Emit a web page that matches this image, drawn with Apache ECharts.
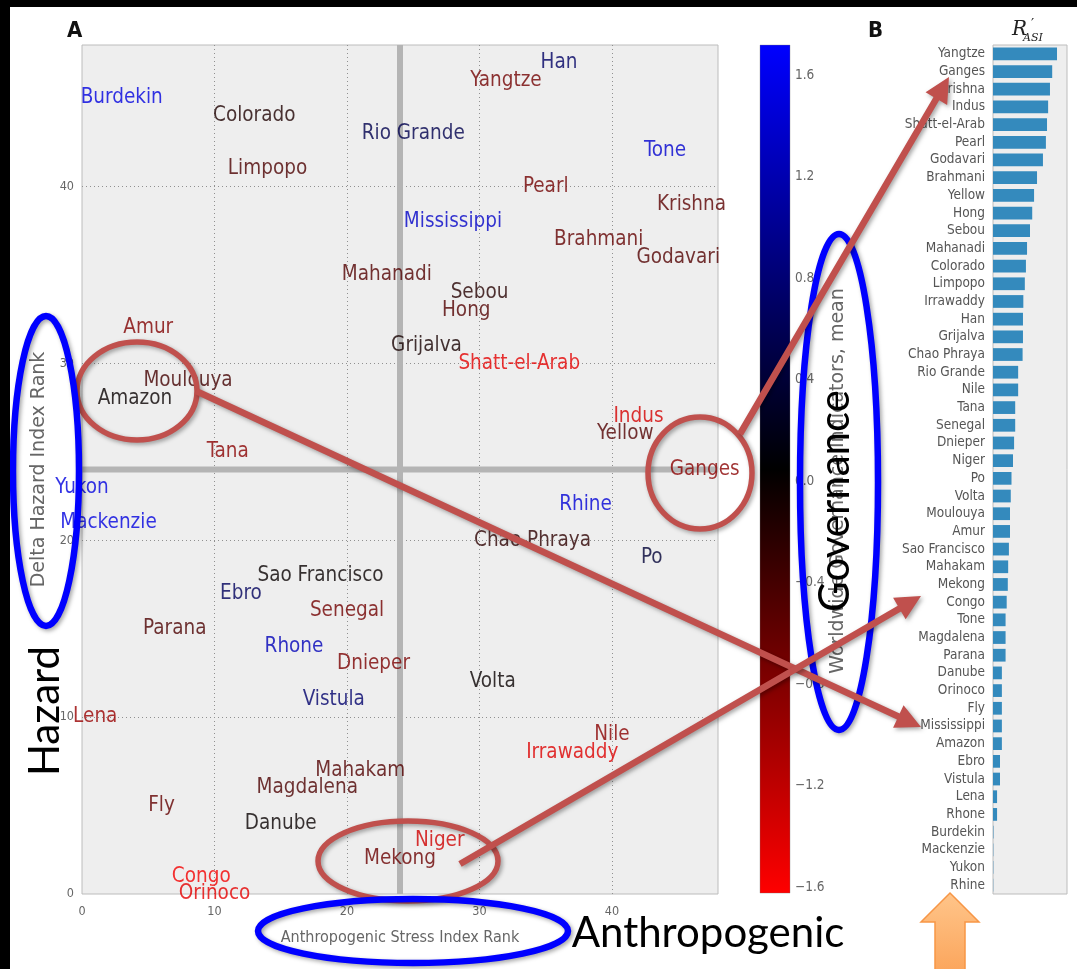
<!DOCTYPE html>
<html>
<head>
<meta charset="utf-8">
<script src="https://cdn.jsdelivr.net/npm/echarts@6/dist/echarts.min.js"></script>
<style>
  html, body { margin: 0; padding: 0; background: #ffffff; }
  #chart { width: 1077px; height: 969px; }
</style>
</head>
<body>
<div id="chart"></div>
<script>
// ---- Panel A: deltas placed by stress rank (x) and hazard rank (y), coloured by governance ----
const rivers = [
  'Yukon', 'Lena', 'Mackenzie', 'Burdekin', 'Amazon', 'Amur', 'Fly', 'Parana',
  'Moulouya', 'Congo', 'Orinoco', 'Tana', 'Ebro', 'Colorado', 'Limpopo', 'Danube',
  'Rhone', 'Magdalena', 'Sao Francisco', 'Vistula', 'Senegal', 'Mahakam', 'Dnieper', 'Mahanadi',
  'Mekong', 'Rio Grande', 'Grijalva', 'Niger', 'Mississippi', 'Hong', 'Sebou', 'Volta',
  'Yangtze', 'Shatt-el-Arab', 'Chao Phraya', 'Pearl', 'Han', 'Irrawaddy', 'Rhine', 'Brahmani',
  'Nile', 'Yellow', 'Indus', 'Po', 'Tone', 'Godavari', 'Krishna', 'Ganges'
];
const stressRank = [
  0, 1, 2, 3, 4, 5, 6, 7,
  8, 9, 10, 11, 12, 13, 14, 15,
  16, 17, 18, 19, 20, 21, 22, 23,
  24, 25, 26, 27, 28, 29, 30, 31,
  32, 33, 34, 35, 36, 37, 38, 39,
  40, 41, 42, 43, 44, 45, 46, 47
];
const hazardRank = [
  23, 10, 21, 45, 28, 32, 5, 15,
  29, 1, 0, 25, 17, 44, 41, 4,
  14, 6, 18, 11, 16, 7, 13, 35,
  2, 43, 31, 3, 38, 33, 34, 12,
  46, 30, 20, 40, 47, 8, 22, 37,
  9, 26, 27, 19, 42, 36, 39, 24
];
const governance = [
  1.5, -0.95, 1.5, 1.5, 0.0, -0.8, -0.6, -0.45,
  -0.4, -1.55, -1.45, -0.85, 0.65, -0.15, -0.45, 0.0,
  1.25, -0.45, 0.0, 0.75, -0.7, -0.5, -0.75, -0.5,
  -0.65, 0.55, -0.1, -1.3, 1.35, -0.5, -0.2, 0.0,
  -0.7, -1.45, -0.25, -0.7, 0.7, -1.4, 1.45, -0.6,
  -0.85, -0.5, -1.35, 0.4, 1.4, -0.5, -0.55, -0.85
];
const medianRank = 24;
const rankMax = 48;

// ---- Colour bar ----
const cbMin = -1.624;
const cbMax = 1.718;
const cbTickMin = -1.6;
const cbTickMax = 1.6;
const cbTickStep = 0.4;

// ---- Panel B: R'ASI ranking ----
const asiRivers = [
  'Yangtze', 'Ganges', 'Krishna', 'Indus', 'Shatt-el-Arab', 'Pearl', 'Godavari', 'Brahmani',
  'Yellow', 'Hong', 'Sebou', 'Mahanadi', 'Colorado', 'Limpopo', 'Irrawaddy', 'Han',
  'Grijalva', 'Chao Phraya', 'Rio Grande', 'Nile', 'Tana', 'Senegal', 'Dnieper', 'Niger',
  'Po', 'Volta', 'Moulouya', 'Amur', 'Sao Francisco', 'Mahakam', 'Mekong', 'Congo',
  'Tone', 'Magdalena', 'Parana', 'Danube', 'Orinoco', 'Fly', 'Mississippi', 'Amazon',
  'Ebro', 'Vistula', 'Lena', 'Rhone', 'Burdekin', 'Mackenzie', 'Yukon', 'Rhine'
];
const asiValues = [
  0.865, 0.80, 0.77, 0.745, 0.73, 0.715, 0.675, 0.595,
  0.555, 0.53, 0.50, 0.46, 0.445, 0.43, 0.41, 0.405,
  0.405, 0.40, 0.34, 0.34, 0.30, 0.30, 0.285, 0.27,
  0.25, 0.24, 0.23, 0.23, 0.215, 0.205, 0.20, 0.185,
  0.17, 0.17, 0.17, 0.12, 0.12, 0.12, 0.12, 0.12,
  0.095, 0.095, 0.055, 0.055, 0.006, 0.004, 0.004, 0.003
];

const COND = '"DejaVu Sans Condensed", "DejaVu Sans", sans-serif';
const SANS = '"DejaVu Sans", sans-serif';
const NOTE = 'Lato, "Open Sans", sans-serif';
const RED = '#c0504d';
const BLUE = '#0000ff';

// red -> black -> blue colour map over the governance range
function govColor(v) {
  let t = (v - cbMin) / (cbMax - cbMin);
  t = Math.max(0, Math.min(1, t));
  let r = 0, b = 0;
  if (t < 0.5) r = Math.round(255 * (1 - 2 * t));
  else b = Math.round(255 * (2 * t - 1));
  return 'rgb(' + r + ',0,' + b + ')';
}

const labelData = rivers.map((name, i) => ({
  name: name,
  value: [stressRank[i], hazardRank[i], governance[i]],
  label: { color: govColor(governance[i]) }
}));

// annotation helpers
const shadow = { shadowBlur: 4, shadowOffsetX: 2, shadowOffsetY: 2, shadowColor: 'rgba(0,0,0,0.35)' };
function ring(cx, cy, rx, ry, color, width) {
  return { type: 'ellipse', z: 100, silent: true,
    shape: { cx: cx, cy: cy, rx: rx, ry: ry },
    style: Object.assign({ fill: 'none', stroke: color, lineWidth: width }, shadow) };
}
function arrow(x0, y0, x1, y1) {
  const dx = x1 - x0, dy = y1 - y0, len = Math.hypot(dx, dy);
  const ux = dx / len, uy = dy / len, nx = -uy, ny = ux;
  const L = 25, W = 12.5, h = 3.3;
  const bx = x1 - ux * L, by = y1 - uy * L;
  const pts = [
    [x0 + nx * h, y0 + ny * h], [bx + nx * h, by + ny * h], [bx + nx * W, by + ny * W],
    [x1, y1],
    [bx - nx * W, by - ny * W], [bx - nx * h, by - ny * h], [x0 - nx * h, y0 - ny * h]
  ];
  return { type: 'polygon', z: 101, silent: true, shape: { points: pts },
    style: Object.assign({ fill: RED }, shadow) };
}

const chart = echarts.init(document.getElementById('chart'), null, { renderer: 'canvas' });

const option = {
  backgroundColor: '#ffffff',
  animation: false,
  grid: [
    { left: 82, top: 45, width: 636, height: 849, show: true,
      backgroundColor: '#eeeeee', borderColor: '#bcbcbc', borderWidth: 1 },
    { left: 760, top: 75, width: 30, height: 812 },
    { left: 993, top: 45, width: 74, height: 849, show: true,
      backgroundColor: '#eeeeee', borderColor: '#bcbcbc', borderWidth: 1 }
  ],
  xAxis: [
    { gridIndex: 0, type: 'value', min: 0, max: rankMax, interval: 10,
      axisLine: { show: false }, axisTick: { show: false },
      splitLine: { show: true, showMinLine: false, showMaxLine: false,
        lineStyle: { color: '#909090', width: 1, type: [1, 3] } },
      axisLabel: { showMaxLabel: false, color: '#666', fontSize: 12.5, fontFamily: COND, margin: 11 },
      name: 'Anthropogenic Stress Index Rank', nameLocation: 'middle', nameGap: 36,
      nameTextStyle: { color: '#666', fontSize: 16, fontFamily: COND } },
    { gridIndex: 1, type: 'value', min: 0, max: 1, show: false },
    { gridIndex: 2, type: 'value', min: 0, max: 1, show: false }
  ],
  yAxis: [
    { gridIndex: 0, type: 'value', min: 0, max: rankMax, interval: 10,
      axisLine: { show: false }, axisTick: { show: false },
      splitLine: { show: true, showMinLine: false, showMaxLine: false,
        lineStyle: { color: '#909090', width: 1, type: [1, 3] } },
      axisLabel: { showMaxLabel: false, color: '#666', fontSize: 12.5, fontFamily: COND, margin: 8 },
      name: 'Delta Hazard Index Rank', nameLocation: 'middle', nameGap: 15, nameRotate: 90,
      nameTextStyle: { color: '#666', fontSize: 19, fontFamily: SANS } },
    { gridIndex: 1, type: 'value', position: 'right', min: cbTickMin, max: cbTickMax, interval: cbTickStep,
      axisLine: { show: false }, axisTick: { show: false }, splitLine: { show: false },
      axisLabel: { color: '#666', fontSize: 13.5, fontFamily: COND, margin: 5,
        formatter: v => (v < -1e-9 ? '\u2212' : '') + Math.abs(v).toFixed(1) },
      name: 'Worldwide Governance Indicators, mean', nameLocation: 'middle', nameGap: 37, nameRotate: 90,
      nameTextStyle: { color: '#666', fontSize: 19, fontFamily: SANS } },
    { gridIndex: 2, type: 'category', data: asiRivers, inverse: true,
      axisLine: { show: false }, axisTick: { show: false }, splitLine: { show: false },
      axisLabel: { interval: 0, color: '#555', fontSize: 13.5, fontFamily: COND, margin: 8 } }
  ],
  series: [
    { type: 'line', xAxisIndex: 0, yAxisIndex: 0, silent: true, symbol: 'none',
      data: [[medianRank, 0], [medianRank, rankMax]],
      lineStyle: { color: '#b4b4b4', width: 6 }, z: 1 },
    { type: 'line', xAxisIndex: 0, yAxisIndex: 0, silent: true, symbol: 'none',
      data: [[0, medianRank], [rankMax, medianRank]],
      lineStyle: { color: '#b4b4b4', width: 6 }, z: 1 },
    { type: 'scatter', xAxisIndex: 0, yAxisIndex: 0, silent: true, z: 3,
      symbolSize: 1, itemStyle: { color: 'rgba(0,0,0,0)' },
      label: { show: true, position: 'inside', formatter: '{b}',
        fontSize: 20.5, fontFamily: COND, align: 'center', verticalAlign: 'middle' },
      data: labelData },
    { type: 'custom', xAxisIndex: 1, yAxisIndex: 1, silent: true, clip: false,
      data: [[0, cbMin, cbMax]],
      renderItem: function (params, api) {
        const cs = params.coordSys;
        const yTop = api.coord([0, api.value(2)])[1];
        const yBot = api.coord([0, api.value(1)])[1];
        return { type: 'rect',
          shape: { x: cs.x, y: yTop, width: cs.width, height: yBot - yTop },
          style: { fill: new echarts.graphic.LinearGradient(0, 0, 0, 1, [
            { offset: 0, color: govColor(cbMax) },
            { offset: 0.5, color: govColor((cbMin + cbMax) / 2) },
            { offset: 1, color: govColor(cbMin) }
          ]), stroke: 'rgba(120,120,120,0.35)', lineWidth: 1 } };
      } },
    { type: 'bar', xAxisIndex: 2, yAxisIndex: 2, silent: true,
      data: asiValues, barWidth: '72%', itemStyle: { color: '#348abd' } }
  ],
  graphic: [
    { type: 'rect', z: 200, silent: true, shape: { x: 0, y: 0, width: 1077, height: 7 }, style: { fill: '#000' } },
    { type: 'rect', z: 200, silent: true, shape: { x: 0, y: 0, width: 10, height: 969 }, style: { fill: '#000' } },
    { type: 'text', z: 50, silent: true, x: 67, y: 31,
      style: { text: 'A', font: 'bold 22px ' + COND, fill: '#111', textVerticalAlign: 'middle' } },
    { type: 'text', z: 50, silent: true, x: 868, y: 31,
      style: { text: 'B', font: 'bold 22px ' + COND, fill: '#111', textVerticalAlign: 'middle' } },
    { type: 'text', z: 50, silent: true, x: 1012, y: 30,
      style: { text: 'R', font: 'italic 20px "DejaVu Serif", serif', fill: '#222', textVerticalAlign: 'middle' } },
    { type: 'text', z: 50, silent: true, x: 1031, y: 25,
      style: { text: '\u2032', font: '14px "DejaVu Serif", serif', fill: '#222', textVerticalAlign: 'middle' } },
    { type: 'text', z: 50, silent: true, x: 1023, y: 38,
      style: { text: 'ASI', font: 'italic 11px "DejaVu Serif", serif', fill: '#222', textVerticalAlign: 'middle' } },

    ring(137, 391, 60, 49, RED, 5.5),
    ring(700, 473, 52, 56, RED, 5.5),
    ring(408, 861, 90, 40, RED, 5.5),
    ring(46, 471, 33, 155, BLUE, 6.5),
    ring(413, 931, 155, 32, BLUE, 6.5),
    ring(839, 482, 39, 248, BLUE, 6.5),
    arrow(740, 434, 949, 77),
    arrow(196, 391, 921, 727),
    arrow(460, 864, 921, 596),
    { type: 'polygon', z: 101, silent: true,
      shape: { points: [[950, 893], [979, 922], [965, 922], [965, 975], [935, 975], [935, 922], [921, 922]] },
      style: { fill: new echarts.graphic.LinearGradient(0, 0, 0, 1, [
        { offset: 0, color: '#ffc58a' }, { offset: 1, color: '#fba45a' }]),
        stroke: '#f79646', lineWidth: 1.5 } },
    { type: 'text', z: 102, silent: true, x: 45, y: 711, rotation: Math.PI / 2,
      style: { text: 'Hazard', font: '42px ' + NOTE, fill: '#000', textAlign: 'center', textVerticalAlign: 'middle' } },
    { type: 'text', z: 102, silent: true, x: 708, y: 933,
      style: { text: 'Anthropogenic', font: '42px ' + NOTE, fill: '#000', textAlign: 'center', textVerticalAlign: 'middle' } },
    { type: 'text', z: 102, silent: true, x: 835, y: 501, rotation: Math.PI / 2,
      style: { text: 'Governance', font: '42px ' + NOTE, fill: '#000', textAlign: 'center', textVerticalAlign: 'middle' } }
  ]
};

chart.setOption(option);
</script>
</body>
</html>
